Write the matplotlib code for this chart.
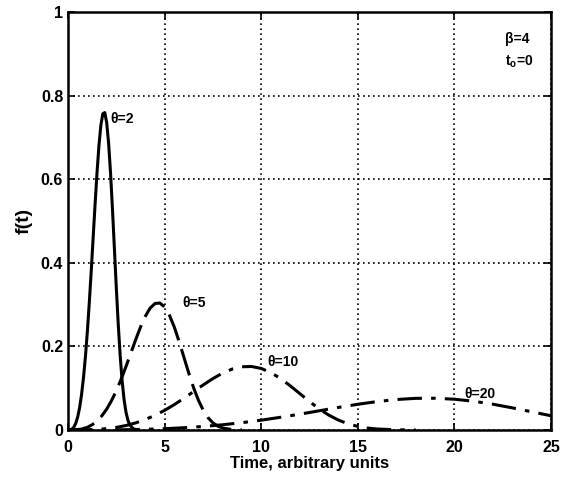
import matplotlib.pyplot as plt

plt.rcParams['font.family'] = ['Liberation Sans', 'DejaVu Sans']
plt.rcParams['font.weight'] = 'bold'
plt.rcParams['mathtext.default'] = 'regular'

# theta = 2
t2 = [0, 0.1, 0.2, 0.3, 0.4, 0.5, 0.6, 0.7, 0.8, 0.9, 1.0, 1.1, 1.2, 1.3, 1.4, 1.5, 1.6, 1.7,
      1.8, 1.9, 2.0, 2.1, 2.2, 2.3, 2.4, 2.5, 2.6, 2.7, 2.8, 2.9, 3.0, 3.1, 3.2, 3.4, 3.6]
f2 = [0, 0.0003, 0.002, 0.0067, 0.016, 0.0311, 0.0536, 0.0845, 0.1248, 0.1749, 0.2349,
      0.3037, 0.3795, 0.4595, 0.5396, 0.6149, 0.6799, 0.7288, 0.7565, 0.7594, 0.7358,
      0.6866, 0.6157, 0.5291, 0.4346, 0.34, 0.2526, 0.1776, 0.1178, 0.0734, 0.0427,
      0.0232, 0.0117, 0.0023, 0.0003]

# theta = 5
t5 = [0, 0.25, 0.5, 0.75, 1.0, 1.25, 1.5, 1.75, 2.0, 2.25, 2.5, 2.75, 3.0, 3.25, 3.5, 3.75,
      4.0, 4.25, 4.5, 4.75, 5.0, 5.25, 5.5, 5.75, 6.0, 6.25, 6.5, 6.75, 7.0, 7.25, 7.5,
      7.75, 8.0, 8.5, 9.0]
f5 = [0, 0.0001, 0.0008, 0.0027, 0.0064, 0.0125, 0.0214, 0.0338, 0.0499, 0.07, 0.0939,
      0.1215, 0.1518, 0.1838, 0.2158, 0.246, 0.2719, 0.2915, 0.3026, 0.3038, 0.2943,
      0.2746, 0.2463, 0.2116, 0.1738, 0.136, 0.101, 0.0711, 0.0471, 0.0293, 0.0171,
      0.0093, 0.0047, 0.0009, 0.0001]

# theta = 10
t10 = [0, 0.5, 1, 1.5, 2, 2.5, 3, 3.5, 4, 4.5, 5, 5.5, 6, 6.5, 7, 7.5, 8, 8.5, 9, 9.5, 10,
       10.5, 11, 11.5, 12, 12.5, 13, 13.5, 14, 14.5, 15, 15.5, 16, 17, 18]
f10 = [0, 0.0001, 0.0004, 0.0013, 0.0032, 0.0062, 0.0107, 0.0169, 0.025, 0.035, 0.047,
       0.0607, 0.0759, 0.0919, 0.1079, 0.123, 0.136, 0.1458, 0.1513, 0.1519, 0.1472,
       0.1373, 0.1231, 0.1058, 0.0869, 0.068, 0.0505, 0.0355, 0.0236, 0.0147, 0.0085,
       0.0046, 0.0023, 0.0005, 0.0001]

# theta = 20
t20 = list(range(0, 26))
f20 = [0, 0.00003, 0.0002, 0.0007, 0.0016, 0.0031, 0.0054, 0.0084, 0.0125, 0.0175,
       0.0235, 0.0304, 0.0379, 0.0459, 0.054, 0.0615, 0.068, 0.0729, 0.0757, 0.0759,
       0.0736, 0.0687, 0.0616, 0.0529, 0.0435, 0.034]

labels = ['θ=2', 'θ=5', 'θ=10', 'θ=20']
label_x = [2.2, 5.9, 10.3, 20.5]
label_y = [0.745, 0.305, 0.163, 0.086]

fig = plt.figure(figsize=(5.64, 4.84), dpi=100)
ax = fig.add_axes([0.1206, 0.1116, 0.8564, 0.8636])

ax.plot(t2, f2, color='black', lw=2.2, ls='-')
ax.plot(t5, f5, color='black', lw=2.2, dashes=(9, 3))
ax.plot(t10, f10, color='black', lw=2.2, dashes=(8, 3, 1.5, 3))
ax.plot(t20, f20, color='black', lw=2.2, dashes=(8, 3, 1.5, 3))

for s, x, y in zip(labels, label_x, label_y):
    ax.text(x, y, s, fontsize=10, fontweight='bold', ha='left', va='center')

ax.text(22.6, 0.935, 'β=4', fontsize=10, fontweight='bold', ha='left', va='center')
ax.text(22.6, 0.88, 't$_o$=0', fontsize=10, fontweight='bold', ha='left', va='center')

ax.set_xlim(0, 25)
ax.set_ylim(0, 1)
ax.set_xticks([0, 5, 10, 15, 20, 25])
ax.set_yticks([0, 0.2, 0.4, 0.6, 0.8, 1])
ax.set_yticklabels(['0', '0.2', '0.4', '0.6', '0.8', '1'])
ax.tick_params(direction='in', top=True, right=True, labelsize=11.5, width=1.2, length=5)
ax.tick_params(axis='x', pad=7)
for lab in ax.get_xticklabels() + ax.get_yticklabels():
    lab.set_fontweight('bold')
ax.grid(True, color='black', ls=(0, (1, 2)), lw=1.2)
for sp in ax.spines.values():
    sp.set_linewidth(1.8)

ax.set_xlabel('Time, arbitrary units', fontsize=12, fontweight='bold', labelpad=1)
ax.set_ylabel('f(t)', fontsize=14, fontweight='bold', labelpad=6)

fig.savefig('out.png', dpi=100)
